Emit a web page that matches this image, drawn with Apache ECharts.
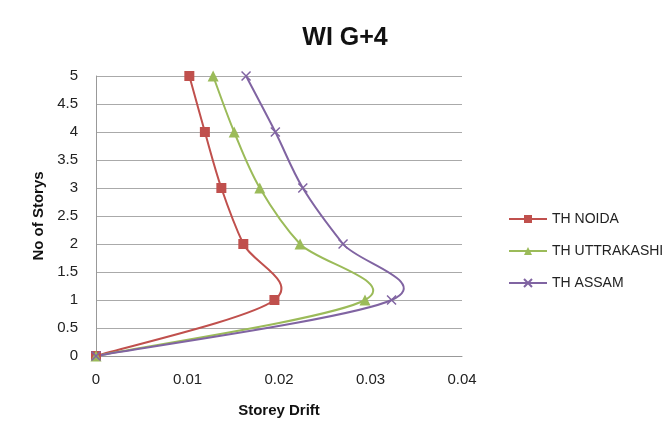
<!DOCTYPE html>
<html><head><meta charset="utf-8">
<script src="https://cdn.jsdelivr.net/npm/echarts@6/dist/echarts.min.js"></script>
<style>html,body{margin:0;padding:0;background:#fff}#c{width:672px;height:430px}</style>
</head><body><div id="c"></div>
<script>
const stories = [0, 1, 2, 3, 4, 5];
const noida = [0, 0.0195, 0.0161, 0.0137, 0.0119, 0.0102];
const uttrakashi = [0, 0.0294, 0.0223, 0.0179, 0.0151, 0.0128];
const assam = [0, 0.0323, 0.0270, 0.0226, 0.0196, 0.0164];
const seriesNames = ['TH NOIDA', 'TH UTTRAKASHI', 'TH ASSAM'];
const xTicks = [0, 0.01, 0.02, 0.03, 0.04];
const yTicks = [0, 0.5, 1, 1.5, 2, 2.5, 3, 3.5, 4, 4.5, 5];
const colors = ['#C0504D', '#9BBB59', '#8064A2'];

const pairs = arr => arr.map((v, i) => [v, stories[i]]);
const font = 'Liberation Sans';
const chart = echarts.init(document.getElementById('c'));

// Excel-like spline (Catmull-Rom converted to Bezier), computed in pixel space via api.coord
function splineSeries(data, color) {
  const d = pairs(data);
  return {
    type: 'custom', data: d, encode: { x: 0, y: 1 }, z: 1, silent: true,
    renderItem: (params, api) => {
      if (params.dataIndex !== 0) return null;
      const p = d.map(q => api.coord(q));
      const children = [];
      for (let i = 0; i < p.length - 1; i++) {
        const p0 = p[Math.max(i - 1, 0)], p1 = p[i], p2 = p[i + 1], p3 = p[Math.min(i + 2, p.length - 1)];
        const k = 1 / 6;
        children.push({
          type: 'bezierCurve',
          shape: {
            x1: p1[0], y1: p1[1], x2: p2[0], y2: p2[1],
            cpx1: p1[0] + (p2[0] - p0[0]) * k, cpy1: p1[1] + (p2[1] - p0[1]) * k,
            cpx2: p2[0] - (p3[0] - p1[0]) * k, cpy2: p2[1] - (p3[1] - p1[1]) * k
          },
          style: { stroke: color, lineWidth: 2, fill: null }
        });
      }
      return { type: 'group', children };
    }
  };
}
const mk = (name, data, color, symbol, size, extra) => ({
  name, type: 'line', data: pairs(data), z: 3,
  symbol, symbolSize: size,
  lineStyle: { color, width: 2, opacity: 0 },
  itemStyle: Object.assign({ color }, extra || {}),
  emphasis: { disabled: true }
});
chart.setOption({
  animation: false,
  title: { text: 'WI G+4', left: 340, top: 21, textAlign: 'center',
    textStyle: { fontFamily: font, fontSize: 25, fontWeight: 'bold', color: '#111' } },
  grid: { left: 96, right: 210, top: 76, bottom: 74 },
  legend: {
    orient: 'vertical', left: 503, top: 207, itemGap: 18, itemWidth: 38, itemHeight: 10,
    textStyle: { fontFamily: font, fontSize: 14, color: '#222' },
    lineStyle: { opacity: 1, width: 2 },
    data: seriesNames
  },
  xAxis: {
    type: 'value', min: 0, max: 0.04, interval: 0.01,
    name: 'Storey Drift', nameLocation: 'middle', nameGap: 47,
    nameTextStyle: { fontFamily: font, fontSize: 15, fontWeight: 'bold', color: '#111' },
    axisLine: { show: true, lineStyle: { color: '#999' } },
    axisTick: { show: false },
    splitLine: { show: false },
    axisLabel: { fontFamily: font, fontSize: 15, color: '#222', margin: 16,
      formatter: v => xTicks.includes(v) ? String(v) : '' }
  },
  yAxis: {
    type: 'value', min: 0, max: 5, interval: 0.5,
    name: 'No of Storys', nameLocation: 'middle', nameGap: 46, nameRotate: 90,
    nameTextStyle: { fontFamily: font, fontSize: 15, fontWeight: 'bold', color: '#111' },
    axisLine: { show: true, lineStyle: { color: '#999' } },
    axisTick: { show: false },
    splitLine: { show: true, lineStyle: { color: '#aaa', width: 1 } },
    axisLabel: { fontFamily: font, fontSize: 15, color: '#222', margin: 18,
      formatter: v => yTicks.includes(v) ? String(v) : '' }
  },
  series: [
    mk(seriesNames[0], noida, colors[0], 'rect', 10),
    mk(seriesNames[1], uttrakashi, colors[1], 'triangle', 11),
    mk(seriesNames[2], assam, colors[2], 'path://M0,0L10,10M10,0L0,10', 9,
      { borderColor: colors[2], borderWidth: 1.5 }),
    splineSeries(noida, colors[0]),
    splineSeries(uttrakashi, colors[1]),
    splineSeries(assam, colors[2])
  ]
});
</script></body></html>
